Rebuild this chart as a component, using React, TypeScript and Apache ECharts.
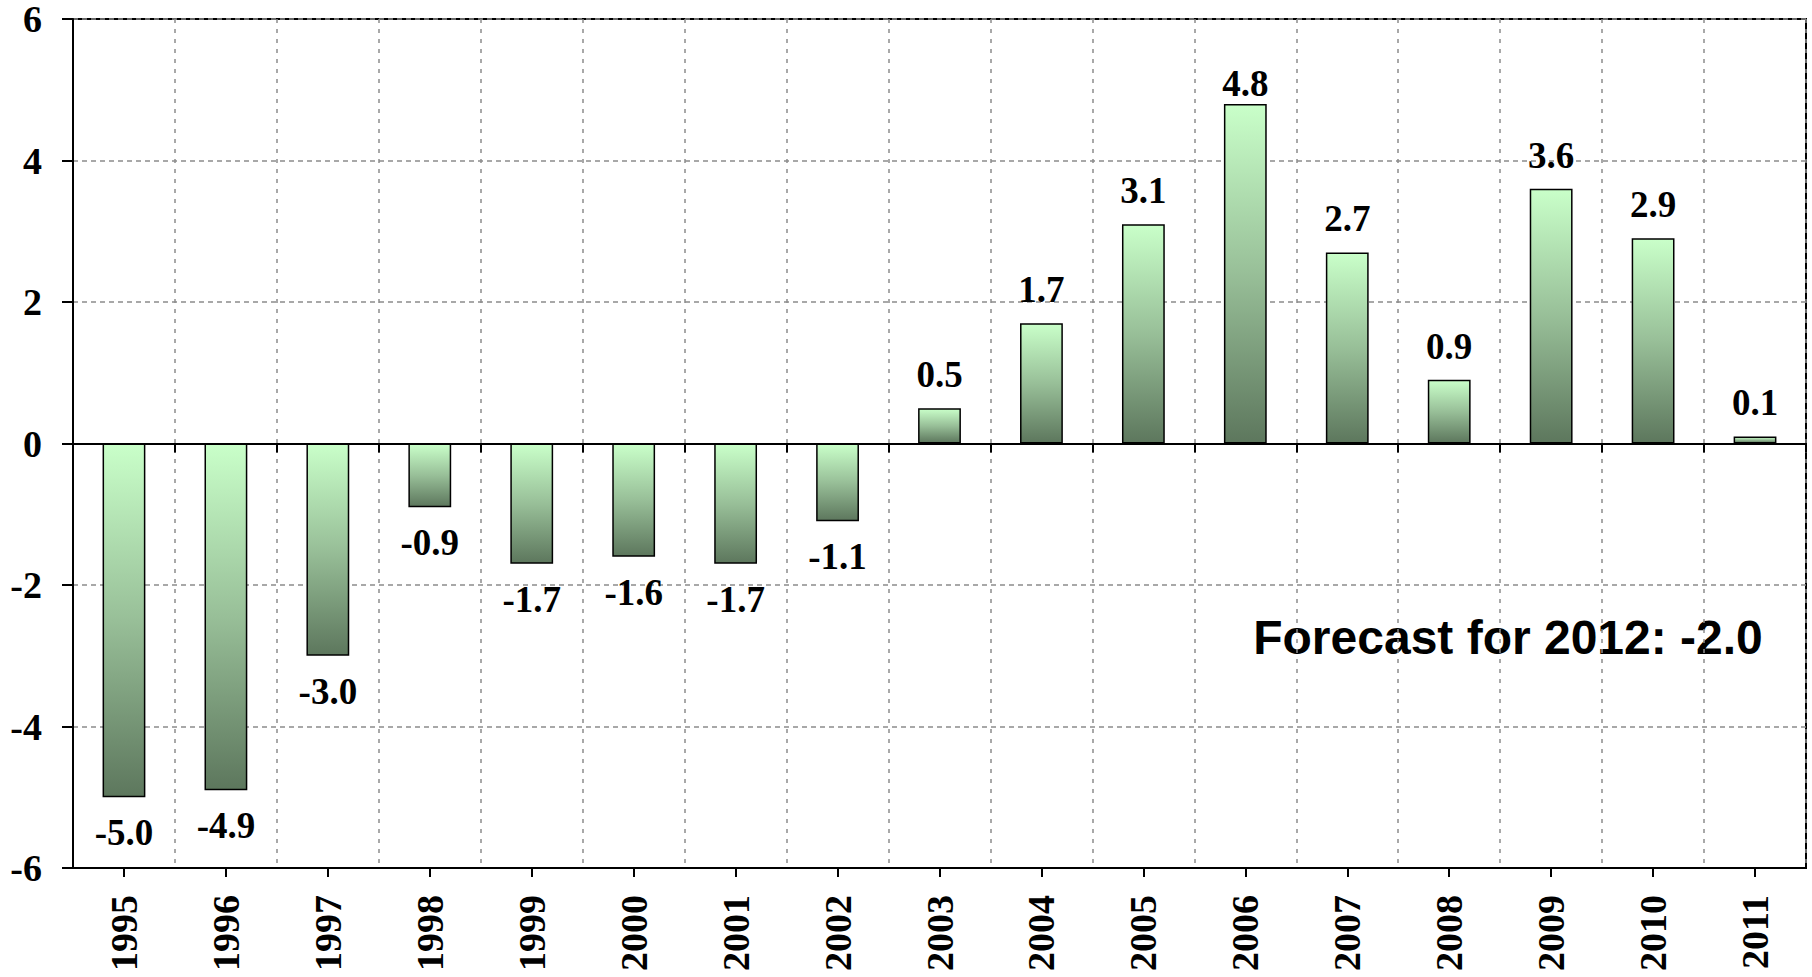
import React, { useEffect, useRef } from "react";
import * as echarts from "echarts";

const years = ["1995","1996","1997","1998","1999","2000","2001","2002","2003","2004","2005","2006","2007","2008","2009","2010","2011"];
const values = [-5.0,-4.9,-3.0,-0.9,-1.7,-1.6,-1.7,-1.1,0.5,1.7,3.1,4.8,2.7,0.9,3.6,2.9,0.1];
const yTicks = { min: -6, max: 6, interval: 2 };
const forecastText = "Forecast for 2012: -2.0";

const serif = '"Liberation Serif", "Times New Roman", serif';
const sans = '"Liberation Sans", Arial, sans-serif';

export default function App() {
  const ref = useRef<HTMLDivElement>(null);
  useEffect(() => {
    const chart = echarts.init(ref.current!, null, { renderer: "svg" });
    const grad = new echarts.graphic.LinearGradient(0, 0, 0, 1, [
      { offset: 0, color: "#c9ffc9" },
      { offset: 0.5, color: "#98bf98" },
      { offset: 1, color: "#5d775d" },
    ]);
    const gridLineH = { show: true, lineStyle: { color: "#8c8c8c", width: 1.5, type: [5, 4] as any } };
    const gridLineV = { show: true, lineStyle: { color: "#8c8c8c", width: 1.5, type: [4, 6] as any } };
    chart.setOption({
      animation: false,
      grid: { left: 73, top: 19, right: 6, bottom: 109, show: true, borderColor: "#000", borderWidth: 2, backgroundColor: "transparent" },
      xAxis: [
        {
          type: "category", data: years, position: "bottom",
          axisLine: { show: false, onZero: false },
          axisTick: { show: false },
          splitLine: gridLineV,
          axisLabel: { rotate: 90, margin: 27, fontFamily: serif, fontWeight: "bold", fontSize: 38, color: "#000" },
        },
        {
          type: "category", data: years, position: "bottom",
          axisLine: { show: true, onZero: true, lineStyle: { color: "#000", width: 2 } },
          axisTick: { show: true, length: 9, lineStyle: { color: "#000", width: 2 } },
          axisLabel: { show: false }, splitLine: { show: false },
        },
        {
          type: "category", data: years, position: "bottom",
          axisLine: { show: true, onZero: true, lineStyle: { color: "#000", width: 2 } },
          axisTick: { show: true, alignWithLabel: true, length: 9, lineStyle: { color: "#000", width: 2 } },
          axisLabel: { show: false }, splitLine: { show: false },
        },
      ],
      yAxis: {
        type: "value", min: yTicks.min, max: yTicks.max, interval: yTicks.interval,
        axisLine: { show: true, lineStyle: { color: "#000", width: 2 } },
        axisTick: { show: true, length: 11, lineStyle: { color: "#000", width: 2 } },
        axisLabel: { margin: 31, fontFamily: serif, fontWeight: "bold", fontSize: 38, lineHeight: 32, padding: [3, 0, 0, 0], color: "#000" },
        splitLine: gridLineH,
      },
      series: [
        {
          type: "bar", xAxisIndex: 0, barWidth: "42%",
          data: values.map((v) => ({
            value: v,
            label: { position: v >= 0 ? "top" : "bottom", distance: v >= 0 ? (v > 4.5 ? 2 : 15) : 17 },
          })),
          itemStyle: { color: grad, borderColor: "#000", borderWidth: 1.5 },
          label: {
            show: true, fontFamily: serif, fontWeight: "bold", fontSize: 37, color: "#000",
            formatter: (p: any) => Number(p.value).toFixed(1),
          },
        },
      ],
      graphic: [
        {
          type: "text", x: 1508, y: 637,
          style: { text: forecastText, font: `bold 48px ${sans}`, fill: "#000", textAlign: "center", textVerticalAlign: "middle" },
        },
      ],
    });
    return () => chart.dispose();
  }, []);
  return <div ref={ref} style={{ position: "absolute", left: 0, top: 0, width: 1812, height: 977 }} />;
}
